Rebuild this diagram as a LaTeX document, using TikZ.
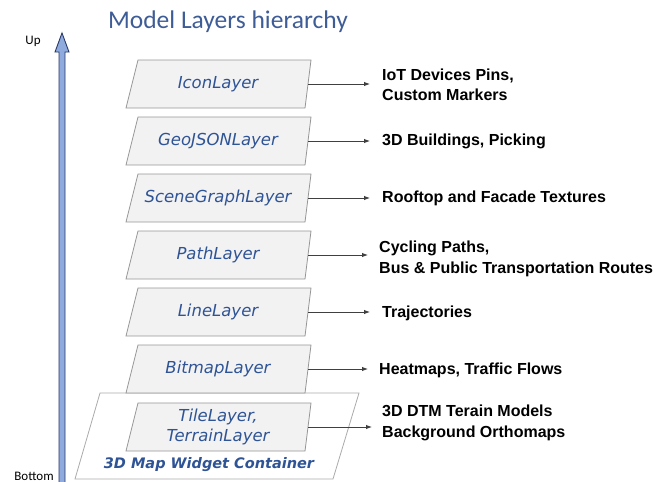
\documentclass[tikz,border=0pt]{standalone}
\usepackage{fontspec}
\setmainfont{Liberation Sans}
\newfontfamily\layerfont{DejaVu Sans}
\newfontfamily\titlefont{Carlito}
\usetikzlibrary{arrows.meta}
\definecolor{layerblue}{RGB}{47,84,150}
\definecolor{titleblue}{RGB}{62,92,150}
\definecolor{layerfill}{RGB}{242,242,242}
\definecolor{layeredge}{RGB}{150,150,150}
\definecolor{upfill}{RGB}{143,170,220}
\definecolor{upedge}{RGB}{40,58,105}
\tikzset{
  layerbox/.style={fill=layerfill, draw=layeredge, line width=0.8pt},
  layertext/.style={font=\layerfont\itshape\fontsize{16.5}{20.5}\selectfont, text=layerblue, align=center, inner sep=0pt},
  usetext/.style={font=\bfseries\fontsize{16}{20.5}\selectfont, align=left, anchor=west, inner sep=0pt},
  conn/.style={draw=black!75, line width=0.9pt, -{Latex[length=6pt,width=4.5pt]}},
  sidetext/.style={font=\titlefont\fontsize{13}{15}\selectfont, inner sep=0pt}
}
\begin{document}
\begin{tikzpicture}[x=1pt,y=-1pt]
  \useasboundingbox (0,0) rectangle (659,482);

  % title
  \node[font=\titlefont\fontsize{25.5}{30}\selectfont, text=titleblue, inner sep=0pt] (title) at (228,22) {Model Layers hierarchy};

  % the "up" arrow along the left side
  \draw[fill=upfill, draw=upedge, line width=0.9pt, line join=miter]
    (59,484) -- (59,52) -- (55,52) -- (62,33) -- (69,52) -- (65,52) -- (65,484);
  \node[sidetext] (up) at (33,41) {Up};
  \node[sidetext] (bottom) at (34,476) {Bottom};

  % widget container
  \draw[fill=white, draw=layeredge!80, line width=0.8pt]
    (100,393) -- (359,393) -- (333,479) -- (75,479) -- cycle;
  \node[font=\layerfont\bfseries\itshape\fontsize{14.5}{16}\selectfont, text=layerblue, inner sep=0pt] (container) at (209,465) {3D Map Widget Container};

  % the stacked layers
  \foreach \n/\top/\txt in {
      L1/60/IconLayer,
      L2/117/GeoJSONLayer,
      L3/174/SceneGraphLayer,
      L4/231/PathLayer,
      L5/288/LineLayer,
      L6/345/BitmapLayer,
      L7/403/{TileLayer,\\TerrainLayer}} {
    \draw[layerbox] (138,\top) -- (311,\top) -- (305,\top+48) -- (126,\top+48) -- cycle;
    \node[layertext] (\n) at (218,\top+24) {\txt};
    \coordinate (\n e) at (308,\top+24);
  }

  % what each layer is used for
  \node[usetext] (U1) at (382,85) {IoT Devices Pins,\\Custom Markers};
  \node[usetext] (U2) at (382,141) {3D Buildings, Picking};
  \node[usetext] (U3) at (382,198) {Rooftop and Facade Textures};
  \node[usetext] (U4) at (379,259) {Cycling Paths,\\Bus \& Public Transportation Routes};
  \node[usetext] (U5) at (382,313) {Trajectories};
  \node[usetext] (U6) at (379,370) {Heatmaps, Traffic Flows};
  \node[usetext] (U7) at (382,423) {3D DTM Terain Models\\Background Orthomaps};

  \draw[conn] (L1e) -- (370,84);
  \draw[conn] (L2e) -- (370,141);
  \draw[conn] (L3e) -- (370,198);
  \draw[conn] (L4e) -- (368,255);
  \draw[conn] (L5e) -- (370,312);
  \draw[conn] (L6e) -- (368,369);
  \draw[conn] (L7e) -- (372,427);
\end{tikzpicture}
\end{document}
